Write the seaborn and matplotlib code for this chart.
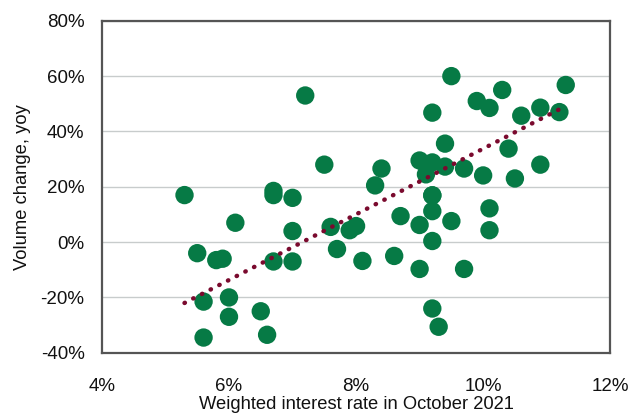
import numpy as np
import pandas as pd
import matplotlib
matplotlib.use("Agg")
import matplotlib.pyplot as plt
import seaborn as sns

# interest rate (%) and yoy volume change (%) per point
rate = [5.3, 5.5, 5.6, 5.6, 5.8, 5.9, 6.0, 6.0, 6.1, 6.5, 6.6, 6.7, 6.7, 6.7,
        7.0, 7.0, 7.0, 7.2, 7.5, 7.6, 7.7, 7.9, 8.0, 8.1, 8.3, 8.4, 8.6, 8.7,
        9.0, 9.0, 9.0, 9.1, 9.2, 9.2, 9.2, 9.2, 9.2, 9.2, 9.2, 9.3, 9.4, 9.4,
        9.5, 9.5, 9.7, 9.7, 9.9, 10.0, 10.1, 10.1, 10.1, 10.3, 10.4, 10.5,
        10.6, 10.9, 10.9, 11.2, 11.3]
volume = [17, -4, -21.5, -34.5, -6.5, -6, -20, -27, 7, -25, -33.5, 18.5, 17, -7,
          16, 4, -7, 53, 28, 5.5, -2.5, 4.3, 5.8, -6.8, 20.5, 26.6, -5, 9.4,
          29.5, 6.2, -9.7, 24.5, 28.8, 16.9, 11.2, 0.4, -24, 46.8, 16.9, -30.6, 27.3, 35.6,
          60, 7.6, 26.6, -9.7, 51, 24.1, 48.5, 12.2, 4.3, 55, 33.8, 23,
          45.7, 48.6, 28, 47, 56.8]

# linear trend, start and end as drawn in the chart
trend_rate = [5.3, 11.25]
trend_volume = [-22, 48.6]

df = pd.DataFrame({"rate": rate, "volume": volume})

sns.set_style("white")
plt.rcParams["font.family"] = ["Liberation Sans", "DejaVu Sans"]

fig, ax = plt.subplots(figsize=(6.33, 4.16), dpi=100)
fig.subplots_adjust(left=0.161, right=0.964, top=0.95, bottom=0.152)

ax.grid(axis="y", color="#c8cccc", linewidth=1)
ax.set_axisbelow(True)

sns.scatterplot(data=df, x="rate", y="volume", color="#067a45", s=175,
                edgecolor="none", ax=ax, zorder=2)

ax.plot(trend_rate, trend_volume, color="#7a0a2e", linestyle=(0, (0.1, 2.1)),
        linewidth=3.2, dash_capstyle="round", zorder=3)

ax.set_xlim(4, 12)
ax.set_ylim(-40, 80)
ax.set_xticks(range(4, 13, 2))
ax.set_xticklabels([f"{v}%" for v in range(4, 13, 2)])
ax.set_yticks(range(-40, 81, 20))
ax.set_yticklabels([f"{v}%" for v in range(-40, 81, 20)])
ax.tick_params(direction="in", length=5, width=1.2, color="#555555",
               labelsize=13.5, labelcolor="#111111")
ax.tick_params(axis="x", pad=18)
ax.tick_params(axis="y", pad=12.5)
for sp in ax.spines.values():
    sp.set_color("#555555")
    sp.set_linewidth(1.6)

ax.set_xlabel("Weighted interest rate in October 2021", fontsize=13.2,
              color="#111111", labelpad=1)
ax.set_ylabel("Volume change, yoy", fontsize=13.2, color="#111111", labelpad=7)

fig.savefig("out.png", dpi=100)
